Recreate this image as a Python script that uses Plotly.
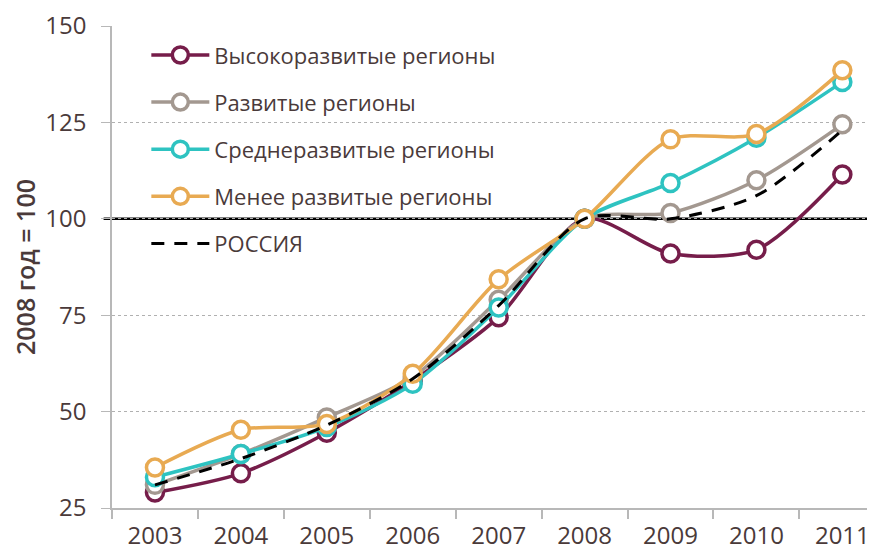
import plotly.graph_objects as go

years = ["2003", "2004", "2005", "2006", "2007", "2008", "2009", "2010", "2011"]
high = [29.0, 34.0, 44.5, 58.0, 74.5, 100, 91.0, 92.0, 111.5]
developed = [31.0, 39.0, 48.5, 59.0, 79.0, 100, 101.5, 110.0, 124.5]
medium = [33.0, 39.0, 46.0, 57.2, 77.0, 100, 109.3, 121.0, 135.5]
less = [35.5, 45.3, 46.8, 59.8, 84.3, 100, 120.6, 122.0, 138.5]
russia = [31.0, 37.8, 46.5, 58.5, 77.5, 100, 100.0, 106.0, 123.0]

names = ["Высокоразвитые регионы", "Развитые регионы", "Среднеразвитые регионы",
         "Менее развитые регионы", "РОССИЯ"]
colors = ["#761d4a", "#a39890", "#2ec3c1", "#e8aa52", "#000000"]
series = [high, developed, medium, less, russia]

FONT = "Open Sans"
TXT = "#4a3a3a"

fig = go.Figure()
for i, (nm, col, vals) in enumerate(zip(names, colors, series)):
    if nm == "РОССИЯ":
        fig.add_trace(go.Scatter(
            x=years, y=vals, name=nm, mode="lines",
            line=dict(color=col, width=3, dash="13px,10px", shape="spline", smoothing=0.8),
            legendgroup=str(i)))
    else:
        fig.add_trace(go.Scatter(
            x=years, y=vals, name=nm, mode="lines+markers",
            line=dict(color=col, width=3.5, shape="spline", smoothing=0.8),
            marker=dict(symbol="circle", size=17, color="white",
                        line=dict(color=col, width=3.5)),
            legendgroup=str(i)))

fig.add_shape(type="line", xref="paper", yref="y", x0=-0.011, x1=1, y0=100, y1=100,
              line=dict(color="black", width=2.5), layer="between")

# page has an 8px body margin, so the figure is drawn 8px in from the top-left
fig.update_layout(
    width=867, height=542,
    margin=dict(l=104, r=0, t=18, b=42, autoexpand=False),
    plot_bgcolor="white", paper_bgcolor="white",
    font=dict(family=FONT, color=TXT, size=24),
    showlegend=True,
    legend=dict(x=0.045, y=0.983, xanchor="left", yanchor="top",
                font=dict(family=FONT, size=22, color=TXT),
                bgcolor="rgba(0,0,0,0)", tracegroupgap=15.5, itemwidth=58),
    xaxis=dict(type="category", range=[-0.5, 8.38], tickson="boundaries",
               automargin=False,
               showline=True, linecolor="#b8b8b8", linewidth=1.5,
               ticks="outside", ticklen=9, tickcolor="#b8b8b8", tickwidth=1.5,
               ticklabelstandoff=5,
               showgrid=False, tickfont=dict(size=24, color=TXT)),
    yaxis=dict(range=[25, 150], tickvals=[25, 50, 75, 100, 125, 150],
               automargin=False,
               showline=True, linecolor="#b8b8b8", linewidth=1.5,
               ticks="outside", ticklen=9, tickcolor="#b8b8b8", tickwidth=1,
               ticklabelstandoff=10,
               showgrid=True, gridcolor="#b0b0b0", gridwidth=1, griddash="3px,3px",
               zeroline=False, tickfont=dict(size=24, color=TXT),
               title=dict(text="2008 год = 100",
                          font=dict(size=25, color=TXT, family=FONT, weight=600),
                          standoff=10)),
)

fig.write_html("out.html")
